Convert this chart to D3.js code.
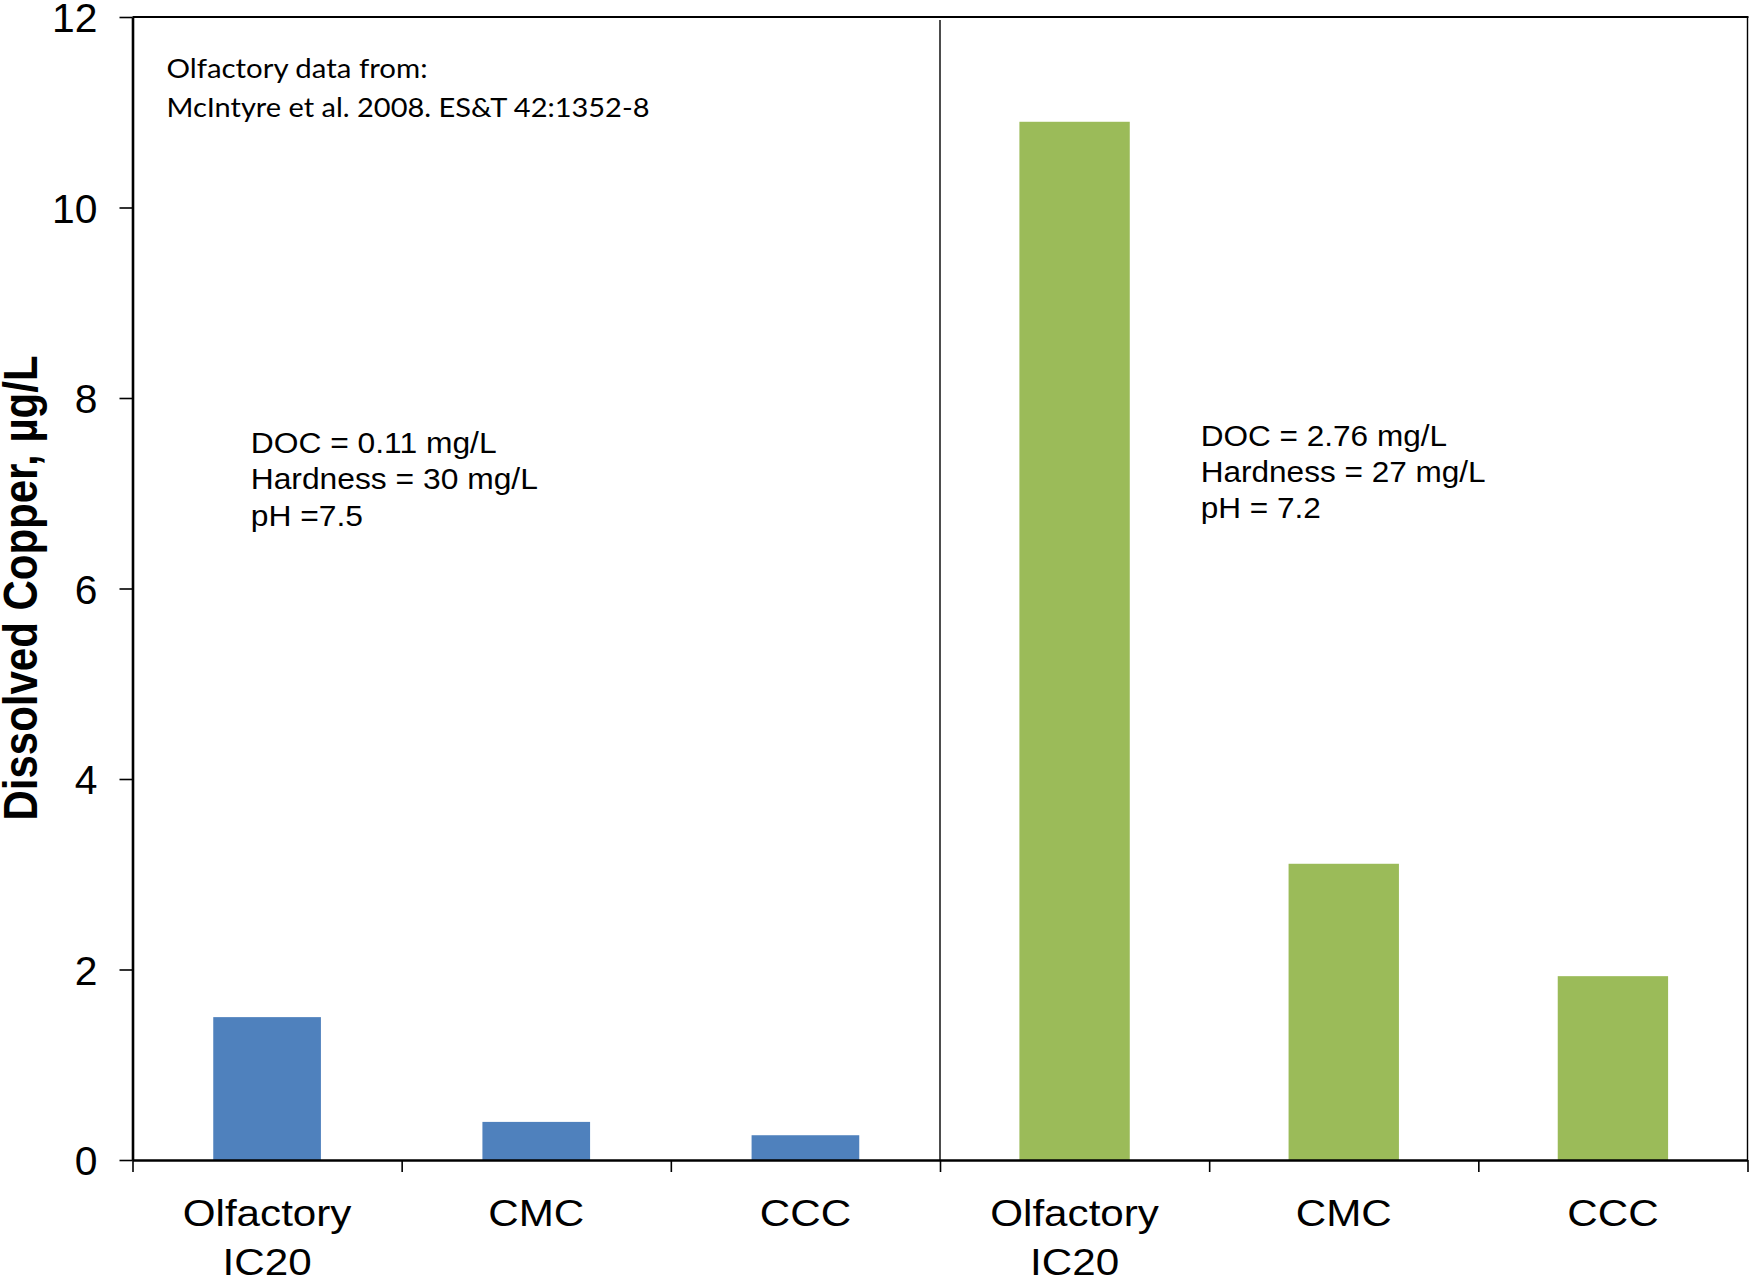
<!DOCTYPE html>
<html>
<head>
<meta charset="utf-8">
<script src="https://cdn.jsdelivr.net/npm/d3@7"></script>
<style>
  html, body { margin: 0; padding: 0; background: #fff; }
  svg { display: block; }
</style>
</head>
<body>
<svg id="chart" width="1749" height="1282"></svg>
<script>
// Dissolved copper thresholds under two water chemistries (µg/L)
const categories = ["Olfactory IC20", "CMC", "CCC"];
const categoryLabelLines = [["Olfactory", "IC20"], ["CMC"], ["CCC"]];
const lowDocCopper = [1.5, 0.4, 0.26];     // DOC 0.11 mg/L water
const highDocCopper = [10.9, 3.11, 1.93];  // DOC 2.76 mg/L water
const yTickValues = [0, 2, 4, 6, 8, 10, 12];
const yTitle = "Dissolved Copper, µg/L";
const lowDocNotes = ["DOC = 0.11 mg/L", "Hardness = 30 mg/L", "pH =7.5"];
const highDocNotes = ["DOC = 2.76 mg/L", "Hardness = 27 mg/L", "pH = 7.2"];
const sourceNotes = ["Olfactory data from:", "McIntyre et al. 2008. ES&T 42:1352-8"];

const seriesColor = { low: "#4F81BD", high: "#9BBB59" };
const barFraction = { low: 0.40, high: 0.41 };

const rows = [
  ...lowDocCopper.map((v, i) => ({ key: "low" + i, cat: i, group: "low", value: v })),
  ...highDocCopper.map((v, i) => ({ key: "high" + i, cat: i, group: "high", value: v }))
];

const plot = { left: 132.5, right: 1747.5, top: 17, bottom: 1160 };
const sans = "'Liberation Sans', Arial, sans-serif";
const sx = 1.14;      // horizontal widening of category / title type
const tickSx = 1.02;  // horizontal widening of the value labels

const svg = d3.select("#chart");

const x = d3.scaleBand()
  .domain(rows.map(d => d.key))
  .range([plot.left, plot.right])
  .paddingInner(0.6)
  .paddingOuter(0.3);

const xEdges = d3.scaleLinear().domain([0, rows.length]).range([plot.left, plot.right]);

const y = d3.scaleLinear().domain([0, 12]).range([plot.bottom, plot.top]);

// bars
svg.append("g").selectAll("rect")
  .data(rows)
  .join("rect")
  .attr("x", d => x(d.key) + x.bandwidth() / 2 - x.step() * barFraction[d.group] / 2)
  .attr("width", d => x.step() * barFraction[d.group])
  .attr("y", d => y(d.value))
  .attr("height", d => y(0) - y(d.value))
  .attr("fill", d => seriesColor[d.group]);

// frame: top edge, right edge, group divider
svg.append("line")
  .attr("x1", plot.left).attr("x2", plot.right + 1)
  .attr("y1", y(12)).attr("y2", y(12))
  .attr("stroke", "#000").attr("stroke-width", 2.2);
svg.append("line")
  .attr("x1", plot.right).attr("x2", plot.right)
  .attr("y1", y(12)).attr("y2", y(0))
  .attr("stroke", "#000").attr("stroke-width", 1.4);
svg.append("line")
  .attr("x1", xEdges(3)).attr("x2", xEdges(3))
  .attr("y1", y(12) + 3).attr("y2", y(0))
  .attr("stroke", "#000").attr("stroke-width", 1.4);

// y axis
const yAxisG = svg.append("g")
  .attr("transform", `translate(${plot.left},0)`)
  .call(d3.axisLeft(y).tickValues(yTickValues).tickSize(13).tickSizeOuter(0).tickFormat(d3.format("d")));
yAxisG.select(".domain").attr("stroke-width", 2.6);
yAxisG.selectAll(".tick line").attr("stroke-width", 1.6);
yAxisG.selectAll(".tick text")
  .attr("font-family", sans)
  .attr("font-size", 40)
  .attr("fill", "#000")
  .attr("x", -35 / tickSx)
  .attr("dy", "0.37em")
  .attr("transform", `scale(${tickSx},1)`);

// x axis: ticks at category boundaries, labels drawn separately
const xAxisG = svg.append("g")
  .attr("transform", `translate(0,${plot.bottom})`)
  .call(d3.axisBottom(xEdges).tickValues(d3.range(rows.length + 1)).tickSize(12).tickSizeOuter(0).tickFormat(""));
xAxisG.select(".domain").attr("stroke-width", 2.6);
xAxisG.selectAll(".tick line").attr("stroke-width", 1.6);

// category labels
const labelBaselines = [1226, 1275];
svg.append("g").selectAll("g")
  .data(rows)
  .join("g")
  .each(function (d) {
    const cx = x(d.key) + x.bandwidth() / 2;
    categoryLabelLines[d.cat].forEach((line, li) => {
      d3.select(this).append("text")
        .attr("transform", `translate(${cx},${labelBaselines[li]}) scale(${sx},1)`)
        .attr("text-anchor", "middle")
        .attr("font-family", sans)
        .attr("font-size", 37)
        .attr("fill", "#000")
        .text(line);
    });
  });

// y title
svg.append("text")
  .attr("transform", `translate(36.5,588) scale(${sx},1) rotate(-90)`)
  .attr("text-anchor", "middle")
  .attr("font-family", sans)
  .attr("font-weight", "bold")
  .attr("font-size", 42)
  .attr("fill", "#000")
  .text(yTitle);

// water chemistry notes
function noteBlock(lines, x0, baselines, size, widen) {
  const g = svg.append("g");
  lines.forEach((line, i) => {
    g.append("text")
      .attr("transform", `translate(${x0},${baselines[i]}) scale(${widen},1)`)
      .attr("font-family", sans)
      .attr("font-size", size)
      .attr("fill", "#000")
      .text(line);
  });
}
noteBlock(lowDocNotes, 250.7, [453.3, 489, 526], 30, 1.06);
noteBlock(highDocNotes, 1200.7, [445.7, 481.7, 518.3], 29.5, 1.07);

// data source note
const sourceWidths = [261, 483];
svg.append("g").selectAll("text")
  .data(sourceNotes)
  .join("text")
  .attr("x", 166.5)
  .attr("y", (d, i) => [78.3, 117.3][i])
  .attr("font-family", "Lato, 'Open Sans', sans-serif")
  .attr("font-size", 26.5)
  .attr("fill", "#000")
  .attr("textLength", (d, i) => sourceWidths[i])
  .attr("lengthAdjust", "spacingAndGlyphs")
  .text(d => d);
</script>
</body>
</html>
